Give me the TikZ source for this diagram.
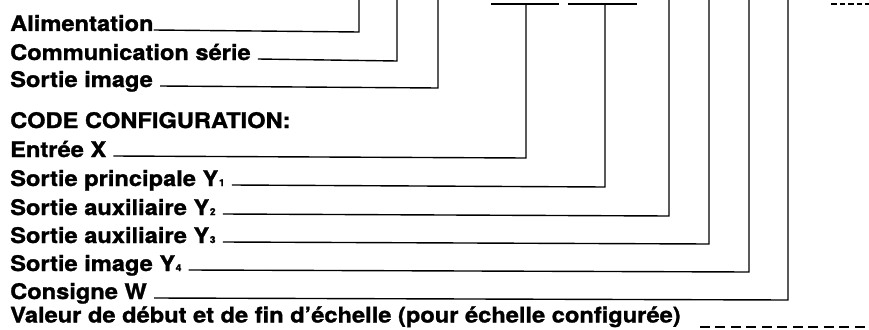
\documentclass[tikz,border=0pt]{standalone}
\usepackage{fontspec}
\setmainfont{TeX Gyre Heros}[FakeStretch=1.1,BoldFeatures={FakeStretch=1.1,FakeBold=1.2}]
\newcommand{\subdig}[1]{\kern0.5pt{\fontsize{9.5}{9.5}\selectfont #1}}
\begin{document}
\begin{tikzpicture}[x=1pt,y=-1pt,
  lbl/.style={anchor=base west,inner sep=0pt,font=\fontsize{21.5}{23}\selectfont\bfseries},
  wire/.style={line width=1.4pt,line join=miter},
  dashwire/.style={line width=1.8pt,dash pattern=on 10pt off 5.5pt},
  topdash/.style={line width=1.8pt,dash pattern=on 5.5pt off 3pt}]
\useasboundingbox (0,0) rectangle (869,329);
% labels
\node[lbl] (alim) at (10,31) {Alimentation};
\node[lbl] (comm) at (10,60) {Communication série};
\node[lbl] (simg) at (10,87) {Sortie image};
\node[lbl] (code) at (10,128) {CODE CONFIGURATION:};
\node[lbl] (ex) at (10,157) {Entrée X};
\node[lbl] (y1) at (10,186) {Sortie principale Y\subdig{1}};
\node[lbl] (y2) at (10,215) {Sortie auxiliaire Y\subdig{2}};
\node[lbl] (y3) at (10,243) {Sortie auxiliaire Y\subdig{3}};
\node[lbl] (y4) at (10,271) {Sortie image Y\subdig{4}};
\node[lbl] (w) at (10,299) {Consigne W};
\node[lbl] (val) at (10,322.5) {Valeur de début et de fin d’échelle (pour échelle configurée)};
% top ends
\coordinate (tAlim) at (359,0);
\coordinate (tComm) at (397,0);
\coordinate (tSimg) at (438,0);
\coordinate (tX) at (526,4);
\coordinate (tY1) at (605,4);
\coordinate (tY2) at (669,0);
\coordinate (tY3) at (709,0);
\coordinate (tY4) at (749,0);
\coordinate (tW) at (788,0);
% T bars
\coordinate (b1a) at (491,4); \coordinate (b1b) at (559,4);
\coordinate (b2a) at (568,4); \coordinate (b2b) at (637,4);
\draw[wire] (b1a) -- (b1b);
\draw[wire] (b2a) -- (b2b);
% connectors
\draw[wire] ([yshift=1pt]alim.base east) -- (tAlim |- 0,32) -- (tAlim);
\draw[wire] ([xshift=7pt,yshift=1pt]comm.base east) -- (tComm |- 0,61) -- (tComm);
\draw[wire] ([xshift=7pt,yshift=1pt]simg.base east) -- (tSimg |- 0,88) -- (tSimg);
\draw[wire] ([xshift=7pt,yshift=1pt]ex.base east) -- (tX |- 0,158) -- (tX);
\draw[wire] ([xshift=7pt,yshift=1pt]y1.base east) -- (tY1 |- 0,187) -- (tY1);
\draw[wire] ([xshift=7pt,yshift=1pt]y2.base east) -- (tY2 |- 0,216) -- (tY2);
\draw[wire] ([xshift=7pt,yshift=1pt]y3.base east) -- (tY3 |- 0,244) -- (tY3);
\draw[wire] ([xshift=7pt,yshift=1pt]y4.base east) -- (tY4 |- 0,272) -- (tY4);
\draw[wire] ([xshift=7pt,yshift=1pt]w.base east) -- (tW |- 0,300) -- (tW);
% dashed continuations
\coordinate (dEnd) at (869,327);
\draw[dashwire] ([xshift=19pt]val.base east |- dEnd) -- (dEnd);
\coordinate (tdA) at (831,4); \coordinate (tdB) at (869,4);
\draw[topdash] (tdA) -- (tdB);
\end{tikzpicture}
\end{document}
